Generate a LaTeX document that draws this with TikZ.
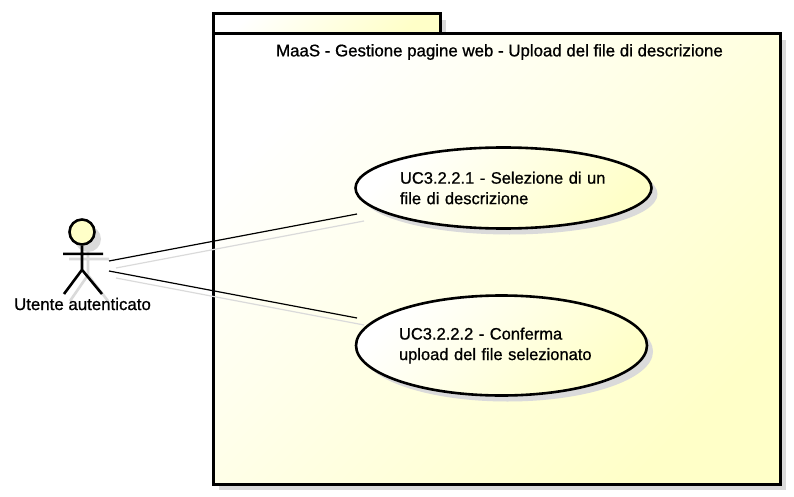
\documentclass[tikz,border=0pt]{standalone}
\usepackage{fontspec}
\setmainfont{Liberation Sans}
\newfontfamily\umlfont[FakeBold=0.9]{Liberation Sans}
\usetikzlibrary{shapes.geometric,shadows,positioning}
\definecolor{umlyellow}{RGB}{255,255,200}
\definecolor{umlshadow}{RGB}{218,218,218}
\tikzset{
  umlfill/.style={top color=white,bottom color=umlyellow,shading angle=45},
  umlshade/.style={drop shadow={shadow xshift=6pt,shadow yshift=-6pt,fill=umlshadow,opacity=1}},
  package/.style={draw,line width=3pt,rectangle,inner sep=0pt,outer sep=0pt,umlfill,umlshade},
  usecase/.style={draw,line width=2.6pt,ellipse,inner sep=0pt,outer sep=0pt,align=left,umlfill,umlshade,font=\umlfont\fontsize{16.5}{20.5}\selectfont},
  label/.style={inner sep=0pt,font=\umlfont\fontsize{16.85}{20}\selectfont},
  limb/.style={line width=2.6pt},
  assoc/.style={line width=1.2pt},
  assocshadow/.style={line width=1.2pt,umlshadow}
}
\begin{document}
\begin{tikzpicture}[x=1pt,y=-1pt]
  \useasboundingbox (0,0) rectangle (794,497);

  \node[package,minimum width=227pt,minimum height=20pt](Tab)    at (326.5,24)  {};
  \node[package,minimum width=567pt,minimum height=450pt](Maas)  at (496.5,259) {};
  \node[label](Title) at (499.5,52) {MaaS - Gestione pagine web - Upload del file di descrizione};

  \node[usecase,minimum width=296pt,minimum height=81pt,text width=207pt](Selezione) at (503.5,188)
       {UC3.2.2.1 - Selezione di un\\file di descrizione};
  \node[usecase,minimum width=291pt,minimum height=100pt,text width=205pt](Conferma) at (501.5,345.5)
       {UC3.2.2.2 - Conferma\\upload del file selezionato};

  % actor shadow first, then the actor
  \begin{scope}[umlshadow,shift={(6,7)}]
    \fill (82,232) circle (13);
    \draw[limb] (82,244) -- (82,268) (63,252) -- (103,252) (64,294) -- (82,268) -- (102,294);
  \end{scope}
  \node[circle,draw,line width=2.6pt,fill=umlyellow,minimum size=25pt,inner sep=0pt](Head) at (82,232) {};
  \coordinate[below=24pt of Head.south](Hip);
  \coordinate[below=8pt of Head.south](Neck);
  \coordinate[left=19pt of Neck](ArmL);
  \coordinate[right=21pt of Neck](ArmR);
  \coordinate(FootL) at (64,294);
  \coordinate(FootR) at (102,294);
  \draw[limb] (Head) -- (Hip) (ArmL) -- (ArmR) (FootL) -- (Hip) -- (FootR);
  \node[label](Utente) at (82.5,304) {Utente autenticato};

  \coordinate(ActorA) at (109,261);
  \coordinate(ActorB) at (109,271);
  \coordinate(EndA)   at (357,214);
  \coordinate(EndB)   at (357,318);

  \draw[assocshadow] ([shift={(7,7)}]ActorA) -- ([shift={(7,7)}]EndA)
                     ([shift={(7,7)}]ActorB) -- ([shift={(7,7)}]EndB);
  \draw[assoc] (ActorA) -- (EndA) (ActorB) -- (EndB);
\end{tikzpicture}
\end{document}
